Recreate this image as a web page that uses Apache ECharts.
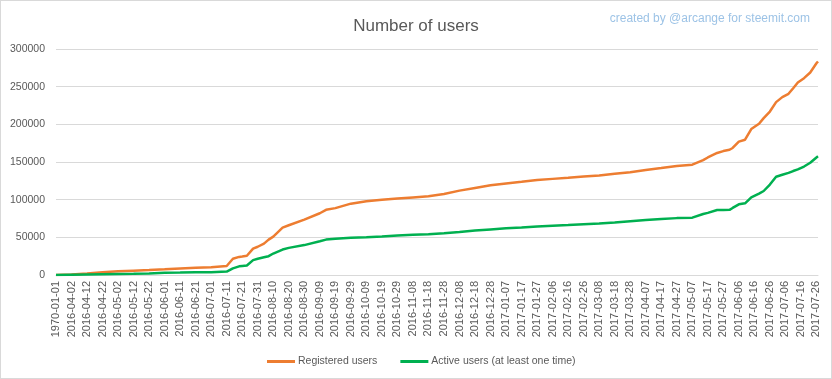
<!DOCTYPE html>
<html>
<head>
<meta charset="utf-8">
<script src="https://cdn.jsdelivr.net/npm/echarts@6/dist/echarts.min.js"></script>
<style>
html,body{margin:0;padding:0;background:#fff;}
#frame{position:absolute;left:0;top:0;width:832px;height:379px;box-sizing:border-box;border:1px solid #D9D9D9;}
#chart{position:absolute;left:0;top:0;width:832px;height:379px;}
</style>
</head>
<body>
<div id="frame"></div>
<div id="chart"></div>
<script>
// Category axis: the first entry, then one entry per day
const firstCategory = '1970-01-01';
const dayStart = '2016-03-24';
const dayEnd = '2017-07-27';

const sampleDates = [
  '1970-01-01','2016-04-02','2016-04-12','2016-04-22','2016-05-02','2016-05-12','2016-05-22','2016-06-01',
  '2016-06-11','2016-06-21','2016-07-01','2016-07-11','2016-07-15','2016-07-19','2016-07-21','2016-07-24',
  '2016-07-28','2016-07-31','2016-08-04','2016-08-07','2016-08-10','2016-08-16','2016-08-20','2016-08-30',
  '2016-09-09','2016-09-13','2016-09-19','2016-09-29','2016-10-09','2016-10-19','2016-10-29','2016-11-08',
  '2016-11-18','2016-11-28','2016-12-08','2016-12-18','2016-12-28','2017-01-07','2017-01-17','2017-01-27',
  '2017-02-06','2017-02-16','2017-02-26','2017-03-08','2017-03-18','2017-03-28','2017-04-07','2017-04-17',
  '2017-04-27','2017-05-07','2017-05-14','2017-05-17','2017-05-23','2017-05-27','2017-05-31','2017-06-02',
  '2017-06-06','2017-06-10','2017-06-14','2017-06-19','2017-06-22','2017-06-26','2017-06-30','2017-07-04',
  '2017-07-08','2017-07-11','2017-07-14','2017-07-18','2017-07-22','2017-07-26','2017-07-27'
];
const registeredUsers = [
  0,800,2000,3500,5000,5800,6600,7500,
  8500,9500,10300,12000,21500,24000,24500,25500,
  35000,37500,41700,47000,51000,62800,66000,73500,
  82000,86500,88800,94700,98000,99800,101500,103000,
  104500,107500,112000,115500,119000,121500,123700,126000,
  127600,129000,130800,132200,134500,136500,139500,142000,
  144800,146500,152500,156000,162000,164500,166300,168600,
  177000,179600,193700,200800,208300,217000,229500,236100,
  240500,248000,255600,261300,268800,281000,283500
];
const activeUsers = [
  0,300,600,900,1200,1500,2000,3000,
  3200,3500,3800,4500,8800,11500,12000,12700,
  19700,21500,23500,25000,28500,33800,36000,39700,
  44800,47000,48000,49500,50200,51000,52300,53500,
  54200,55500,57000,59000,60500,62000,63000,64500,
  65400,66300,67300,68300,69800,71400,73000,74300,
  75500,76100,81000,82500,86300,86300,86500,89000,
  93800,95100,103100,108000,111500,120000,130500,133000,
  135500,138000,140200,144000,149000,156000,157500
];
const seriesNames = ['Registered users', 'Active users (at least one time)'];
const yTicks = [0, 50000, 100000, 150000, 200000, 250000, 300000];

function pad(n){return (n<10?'0':'')+n;}
const categories = [firstCategory];
(function(){
  const d = new Date(dayStart + 'T00:00:00Z');
  const e = new Date(dayEnd + 'T00:00:00Z');
  while (d <= e) {
    categories.push(d.getUTCFullYear() + '-' + pad(d.getUTCMonth()+1) + '-' + pad(d.getUTCDate()));
    d.setUTCDate(d.getUTCDate()+1);
  }
})();

const regData = sampleDates.map((c,i)=>[c, registeredUsers[i]]);
const actData = sampleDates.map((c,i)=>[c, activeUsers[i]]);

const chart = echarts.init(document.getElementById('chart'), null, {renderer:'canvas'});
chart.setOption({
  animation: false,
  backgroundColor: 'transparent',
  title: [{
    text: 'Number of users',
    left: 'center',
    top: 13,
    textStyle: {fontFamily: 'Liberation Sans', fontSize: 17, fontWeight: 'normal', color: '#595959'}
  }, {
    text: 'created by @arcange for steemit.com',
    right: 17,
    top: 8,
    textStyle: {fontFamily: 'Liberation Sans', fontSize: 12, fontWeight: 'normal', color: '#9DC3E6'}
  }],
  grid: {left: 56, right: 14, top: 49, bottom: 104, containLabel: false},
  legend: {
    left: 262,
    top: 351,
    itemWidth: 28,
    itemHeight: 3,
    itemGap: 23,
    textStyle: {fontFamily: 'Liberation Sans', fontSize: 10.5, color: '#595959', padding: [0,0,0,-2]},
    data: [{name: seriesNames[0], icon: 'rect'}, {name: seriesNames[1], icon: 'rect'}]
  },
  xAxis: {
    type: 'category',
    data: categories,
    boundaryGap: false,
    axisLine: {lineStyle: {color: '#D9D9D9'}},
    axisTick: {show: false},
    axisLabel: {
      interval: 9,
      rotate: 90,
      margin: 6,
      fontFamily: 'Liberation Sans',
      fontSize: 11,
      color: '#595959'
    },
    splitLine: {show: false}
  },
  yAxis: {
    type: 'value',
    min: yTicks[0],
    max: yTicks[yTicks.length-1],
    interval: yTicks[1]-yTicks[0],
    axisLine: {show: false},
    axisTick: {show: false},
    axisLabel: {
      margin: 11, fontFamily: 'Liberation Sans', fontSize: 10.5, color: '#595959',
      formatter: function (v) { return String(v); }
    },
    splitLine: {lineStyle: {color: '#D9D9D9', width: 1}}
  },
  series: [{
    name: seriesNames[0],
    type: 'line',
    data: regData,
    symbol: 'none',
    lineStyle: {color: '#ED7D31', width: 2.5},
    itemStyle: {color: '#ED7D31'}
  }, {
    name: seriesNames[1],
    type: 'line',
    data: actData,
    symbol: 'none',
    lineStyle: {color: '#00B050', width: 2.5},
    itemStyle: {color: '#00B050'}
  }]
});
</script>
</body>
</html>
